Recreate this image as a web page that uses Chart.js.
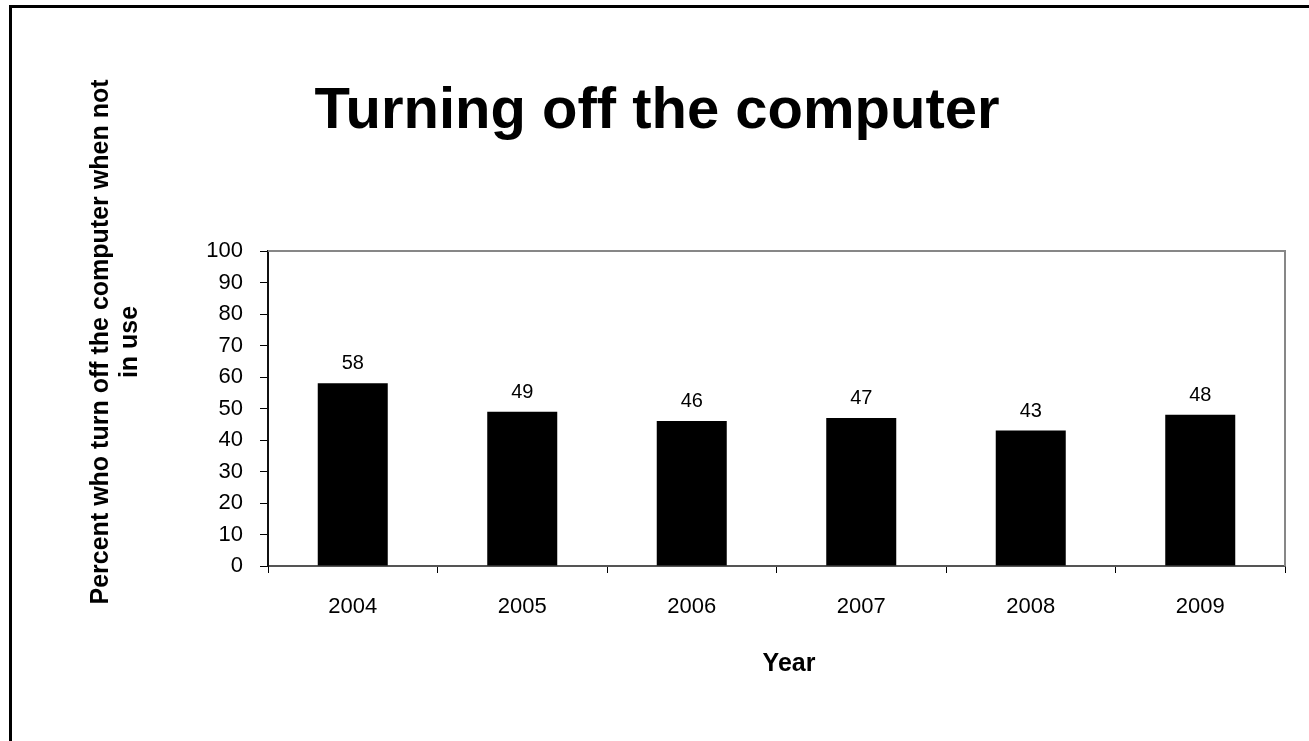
<!DOCTYPE html>
<html lang="en">
<head>
    <meta charset="UTF-8">
    <title>Turning off the computer</title>
    <script src="https://cdn.jsdelivr.net/npm/chart.js"></script>
    <style>
        html, body {
            margin: 0;
            padding: 0;
            background: #fff;
            overflow: hidden;
        }
        #frame {
            position: absolute;
            left: 9px;
            top: 5px;
            width: 1400px;
            height: 900px;
            border: 3px solid #000;
            pointer-events: none;
        }
        #chart {
            position: absolute;
            left: 0;
            top: 0;
        }
    </style>
</head>
<body>
    <canvas id="chart" width="1309" height="741"></canvas>
    <div id="frame"></div>

    <script>
        const years = ['2004', '2005', '2006', '2007', '2008', '2009'];
        const percentOff = [58, 49, 46, 47, 43, 48];
        const yTicks = [0, 10, 20, 30, 40, 50, 60, 70, 80, 90, 100];

        const chartTitle = 'Turning off the computer';
        const yTitleLines = ['Percent who turn off the computer when not', 'in use'];
        const xTitle = 'Year';

        const FONT = '"Liberation Sans", Arial, Helvetica, sans-serif';

        // Gray box around the plot (top and right edges)
        const plotFrame = {
            id: 'plotFrame',
            beforeDatasetsDraw(chart) {
                const { ctx, chartArea: a } = chart;
                ctx.save();
                ctx.strokeStyle = '#878787';
                ctx.lineWidth = 2;
                ctx.beginPath();
                ctx.moveTo(a.left, a.top);
                ctx.lineTo(a.right, a.top);
                ctx.lineTo(a.right, a.bottom);
                ctx.stroke();
                ctx.restore();
            }
        };

        // Value printed above every bar
        const barValues = {
            id: 'barValues',
            afterDatasetsDraw(chart) {
                const { ctx } = chart;
                const meta = chart.getDatasetMeta(0);
                ctx.save();
                ctx.fillStyle = '#000';
                ctx.font = `20px ${FONT}`;
                ctx.textAlign = 'center';
                ctx.textBaseline = 'alphabetic';
                meta.data.forEach((bar, i) => {
                    ctx.fillText(String(percentOff[i]), bar.x, bar.y - 14);
                });
                ctx.restore();
            }
        };

        // Chart title and axis titles
        const titles = {
            id: 'titles',
            afterDraw(chart) {
                const { ctx } = chart;
                ctx.save();
                ctx.fillStyle = '#000';
                ctx.textAlign = 'center';
                ctx.textBaseline = 'alphabetic';

                ctx.font = `bold 58px ${FONT}`;
                ctx.fillText(chartTitle, 657, 128);

                ctx.font = `bold 25px ${FONT}`;
                ctx.fillText(xTitle, 789, 671);

                ctx.translate(108, 342);
                ctx.rotate(-Math.PI / 2);
                yTitleLines.forEach((line, i) => {
                    ctx.fillText(line, 0, i * 29);
                });
                ctx.restore();
            }
        };

        const chart = new Chart(document.getElementById('chart'), {
            type: 'bar',
            data: {
                labels: years,
                datasets: [{
                    data: percentOff,
                    backgroundColor: '#000',
                    borderWidth: 0,
                    categoryPercentage: 1,
                    barPercentage: 0.413
                }]
            },
            options: {
                responsive: false,
                animation: false,
                layout: {
                    padding: { left: 188, right: 24, top: 251, bottom: 115 }
                },
                plugins: {
                    legend: { display: false },
                    tooltip: { enabled: false },
                    title: { display: false }
                },
                scales: {
                    x: {
                        grid: {
                            offset: true,
                            drawOnChartArea: false,
                            drawTicks: true,
                            tickLength: 7,
                            color: '#000',
                            lineWidth: 1
                        },
                        border: { display: true, color: '#555', width: 2 },
                        ticks: {
                            color: '#000',
                            font: { family: FONT, size: 22 },
                            padding: 21
                        },
                        afterFit(scale) { scale.height = 60; }
                    },
                    y: {
                        min: 0,
                        max: 100,
                        afterBuildTicks(scale) {
                            scale.ticks = yTicks.map(v => ({ value: v }));
                        },
                        grid: {
                            drawOnChartArea: false,
                            drawTicks: true,
                            tickLength: 8,
                            color: '#000',
                            lineWidth: 1
                        },
                        border: { display: true, color: '#111', width: 2 },
                        ticks: {
                            color: '#000',
                            font: { family: FONT, size: 22 },
                            padding: 17
                        },
                        afterFit(scale) { scale.width = 80; }
                    }
                }
            },
            plugins: [plotFrame, barValues, titles]
        });
    </script>
</body>
</html>
